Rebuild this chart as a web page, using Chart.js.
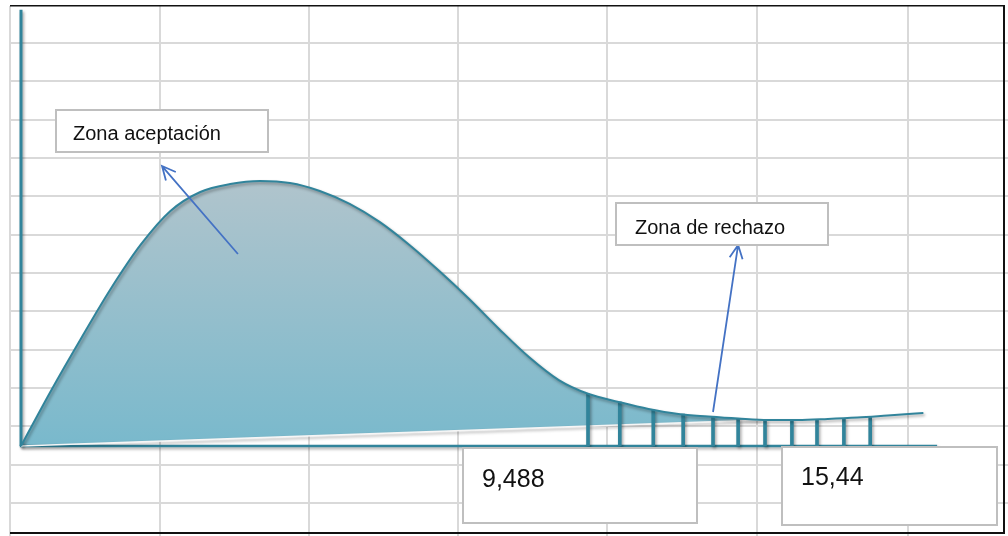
<!DOCTYPE html>
<html>
<head>
<meta charset="utf-8">
<title>Zona de aceptación / rechazo</title>
<script src="https://cdn.jsdelivr.net/npm/chart.js@4.4.1/dist/chart.umd.min.js"></script>
<style>
html, body { margin: 0; padding: 0; background: #fff; }
#wrap { width: 1008px; height: 536px; }
</style>
</head>
<body>
<div id="wrap"><canvas id="myChart" width="1008" height="536"></canvas></div>
<script>
// distribution curve (x = chi-square value, y = density)
var curveX = [0, 0.5, 1, 1.5, 2, 2.5, 3, 3.5, 4, 4.5, 5, 5.5, 6, 6.5, 7, 7.5, 8, 8.5, 9, 9.5, 10, 10.5, 11, 11.5, 12, 12.5, 13, 13.5, 14, 14.5, 15.1];
var curveY = [0, 0.0382, 0.0743, 0.1090, 0.1396, 0.1632, 0.1764, 0.1819, 0.1840, 0.1826, 0.1771, 0.1681, 0.1556, 0.1396, 0.1215, 0.1021, 0.0813, 0.0618, 0.0458, 0.0361, 0.0306, 0.0257, 0.0222, 0.0205, 0.0191, 0.0181, 0.0181, 0.0188, 0.0198, 0.0212, 0.0229];

// lower edge of the shaded area
var baseX = [0, 12.37];
var baseY = [0, 0.018];

// hatching of the rejection zone
var hatchX = [9.488, 10.02, 10.58, 11.08, 11.58, 12.0, 12.45, 12.9, 13.32, 13.77, 14.21];
var hatchY = [0.0361, 0.0306, 0.025, 0.0222, 0.0205, 0.019, 0.0181, 0.0181, 0.0185, 0.0192, 0.0198];

// axes
var axisXEnds = [-0.02, 15.33];
var axisYEnds = [0, 0.303];

// texts
var zoneLabels = ['Zona aceptación', 'Zona de rechazo'];
var valueLabels = ['9,488', '15,44'];

// ---- layout / style (not data) ----
var teal = '#31849b';
var arrowBlue = '#4472c4';
var sheetCols = [10, 160, 309, 458, 607, 757, 908];
var sheetRows = [43, 81, 120, 158, 196, 235, 273, 311, 350, 388, 426, 465, 503];

// boxes in data coords: x0, x1, yTop, yBottom, text offset left / baseline (px), font
var boxes = [
    { text: zoneLabels[0], x0: 0.586, x1: 4.133, y0: 0.2333, y1: 0.2042, dx: 17, dy: 30, font: '20px "Liberation Sans"' },
    { text: zoneLabels[1], x0: 9.957, x1: 13.504, y0: 0.1688, y1: 0.1396, dx: 19, dy: 31, font: '20px "Liberation Sans"' },
    { text: valueLabels[0], x0: 7.396, x1: 11.312, y0: -0.0014, y1: -0.0535, dx: 19, dy: 39, font: '25px "Liberation Sans"' },
    { text: valueLabels[1], x0: 12.734, x1: 16.332, y0: -0.0007, y1: -0.0549, dx: 19, dy: 38, font: '25px "Liberation Sans"' }
];
var arrows = [
    { fx: 3.63, fy: 0.1333, tx: 2.36, ty: 0.1944 },
    { fx: 11.58, fy: 0.0236, tx: 12.0, ty: 0.1396 }
];

function pts(xs, ys) {
    var out = [];
    for (var i = 0; i < xs.length; i++) out.push({ x: xs[i], y: ys[i] });
    return out;
}

var sheetPlugin = {
    id: 'sheet',
    beforeDraw: function(chart) {
        var ctx = chart.ctx;
        ctx.save();
        ctx.strokeStyle = '#d9d9d9';
        ctx.lineWidth = 2;
        ctx.beginPath();
        sheetCols.forEach(function(x) { ctx.moveTo(x, 6); ctx.lineTo(x, 536); });
        sheetRows.forEach(function(y) { ctx.moveTo(10, y); ctx.lineTo(1008, y); });
        ctx.stroke();
        ctx.fillStyle = '#111';
        ctx.fillRect(10, 5, 995, 1.5);
        ctx.fillRect(1003, 5, 2, 529);
        ctx.fillRect(10, 532, 995, 2);
        ctx.restore();
    }
};

var shadowPlugin = {
    id: 'shadow',
    beforeDatasetDraw: function(chart) {
        var ctx = chart.ctx;
        ctx.save();
        ctx.shadowColor = 'rgba(0,0,0,0.35)';
        ctx.shadowBlur = 3;
        ctx.shadowOffsetX = 1.5;
        ctx.shadowOffsetY = 2;
    },
    afterDatasetDraw: function(chart) {
        chart.ctx.restore();
    }
};

function drawArrow(ctx, x1, y1, x2, y2) {
    var a = Math.atan2(y2 - y1, x2 - x1);
    var len = 15, spread = 0.45;
    ctx.beginPath();
    ctx.moveTo(x1, y1);
    ctx.lineTo(x2, y2);
    ctx.moveTo(x2 - len * Math.cos(a - spread), y2 - len * Math.sin(a - spread));
    ctx.lineTo(x2, y2);
    ctx.lineTo(x2 - len * Math.cos(a + spread), y2 - len * Math.sin(a + spread));
    ctx.stroke();
}

var notesPlugin = {
    id: 'notes',
    afterDatasetsDraw: function(chart) {
        var ctx = chart.ctx, sx = chart.scales.x, sy = chart.scales.y;
        ctx.save();
        ctx.strokeStyle = arrowBlue;
        ctx.lineWidth = 1.8;
        arrows.forEach(function(a) {
            drawArrow(ctx, sx.getPixelForValue(a.fx), sy.getPixelForValue(a.fy),
                sx.getPixelForValue(a.tx), sy.getPixelForValue(a.ty));
        });
        boxes.forEach(function(b) {
            var l = Math.round(sx.getPixelForValue(b.x0)), r = Math.round(sx.getPixelForValue(b.x1));
            var t = Math.round(sy.getPixelForValue(b.y0)), bt = Math.round(sy.getPixelForValue(b.y1));
            ctx.fillStyle = '#fff';
            ctx.fillRect(l, t, r - l, bt - t);
            ctx.strokeStyle = '#bfbfbf';
            ctx.lineWidth = 2;
            ctx.strokeRect(l, t, r - l, bt - t);
            ctx.fillStyle = '#111';
            ctx.font = b.font;
            ctx.textBaseline = 'alphabetic';
            ctx.fillText(b.text, l + b.dx, t + b.dy);
        });
        ctx.restore();
    }
};

var ctx = document.getElementById('myChart').getContext('2d');
var chart = new Chart(ctx, {
    type: 'line',
    data: {
        datasets: [{
            label: 'curva',
            data: pts(curveX, curveY),
            borderColor: teal,
            borderWidth: 2,
            cubicInterpolationMode: 'monotone',
            pointRadius: 0,
            fill: 1,
            order: 0,
            backgroundColor: function(context) {
                var c = context.chart;
                if (!c.chartArea) return 'rgba(0,0,0,0)';
                var top = c.scales.y.getPixelForValue(0.184);
                var bottom = c.scales.y.getPixelForValue(0);
                var g = c.ctx.createLinearGradient(0, top, 0, bottom);
                g.addColorStop(0, '#b0c4cc');
                g.addColorStop(1, '#79b9cc');
                return g;
            }
        }, {
            label: 'base',
            data: pts(baseX, baseY),
            borderColor: '#f6f6f6',
            borderWidth: 1.5,
            pointRadius: 0,
            fill: false,
            order: 2
        }, {
            type: 'bar',
            label: 'rechazo',
            data: pts(hatchX, hatchY),
            backgroundColor: teal,
            barThickness: 3,
            order: 1
        }, {
            label: 'eje x',
            data: pts(axisXEnds, [0, 0]),
            borderColor: teal,
            borderWidth: 2.5,
            pointRadius: 0,
            fill: false,
            order: 3
        }, {
            label: 'eje y',
            data: pts([0, 0], axisYEnds),
            borderColor: teal,
            borderWidth: 3,
            pointRadius: 0,
            fill: false,
            order: 3
        }]
    },
    options: {
        responsive: false,
        animation: false,
        layout: { padding: 0 },
        plugins: {
            legend: { display: false },
            tooltip: { enabled: false },
            filler: { drawTime: 'beforeDatasetsDraw' }
        },
        scales: {
            x: { type: 'linear', min: -0.3514, max: 16.516, offset: false, display: false },
            y: { type: 'linear', min: -0.0625, max: 0.3097, display: false }
        }
    },
    plugins: [sheetPlugin, shadowPlugin, notesPlugin]
});
</script>
</body>
</html>
